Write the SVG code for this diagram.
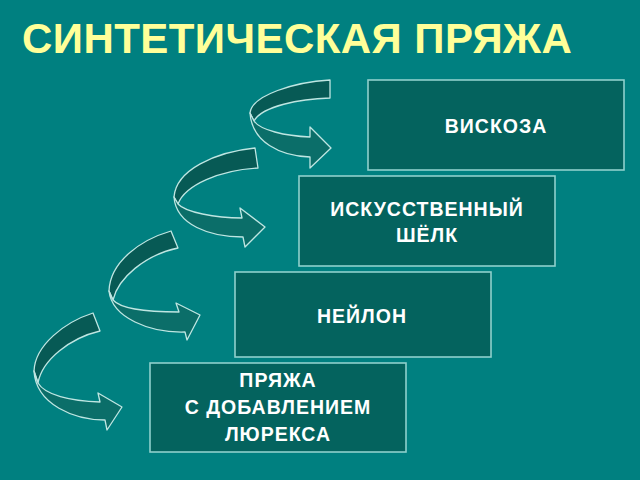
<svg xmlns="http://www.w3.org/2000/svg" width="640" height="480" viewBox="0 0 640 480">
<style>
.box{fill:#04635e;stroke:#8fd0cc;stroke-width:1.6}
.lbl{font-family:"Liberation Sans",Arial,sans-serif;font-weight:bold;font-size:19.5px;letter-spacing:1px;fill:#ffffff;text-anchor:middle}
.back{fill:#075a55;stroke:#bfe6e2;stroke-width:1.3;stroke-linejoin:round}
.front{fill:#0b6e69;stroke:#bfe6e2;stroke-width:1.3;stroke-linejoin:round}
.title{font-family:"Liberation Sans",Arial,sans-serif;font-weight:bold;font-size:42px;letter-spacing:0.45px;fill:#ffff99}
</style>
<rect x="0" y="0" width="640" height="480" fill="#008080"/>
<text class="title" x="22" y="53">СИНТЕТИЧЕСКАЯ ПРЯЖА</text>
<g id="connectors">
<g id="arrow1">
<path class="back" d="M330,80 C295,82 252,95 250,113 L254,121 C262,106 300,99 330,98 Z"/>
<path class="front" d="M254,121 C260,130 285,136 310,137 L310,127 L331,148 L310,168 L310,157 C280,156 252,142 250,113 Z"/>
</g>
<g id="arrow2">
<path class="back" d="M255,148 C215,152 176,170 174,197 L178,204 C185,185 220,170 258,168 Z"/>
<path class="front" d="M178,204 C185,212 215,218 242,218 L240,208 L265,227 L245,247 L243,237 C210,237 176,225 174,197 Z"/>
</g>
<g id="arrow3">
<path class="back" d="M171,231 C140,240 110,262 109,291 L113,300 C118,278 145,255 178,248 Z"/>
<path class="front" d="M113,300 C120,308 145,312 179,312 L176,303 L200,315 L187,340 L185,332 C150,333 112,318 109,291 Z"/>
</g>
<g id="arrow4">
<path class="back" d="M93,313 C65,322 35,345 34,371 L38,383 C42,360 70,338 100,331 Z"/>
<path class="front" d="M38,383 C45,395 70,401 100,402 L98,393 L122,407 L107,430 L105,420 C75,420 36,405 34,371 Z"/>
</g>
</g>
<g id="viscose">
<rect class="box" x="368" y="80" width="256" height="90"/>
<text class="lbl" x="496" y="133">ВИСКОЗА</text>
</g>
<g id="silk">
<rect class="box" x="299" y="176" width="256" height="90"/>
<text class="lbl" x="427" y="216">ИСКУССТВЕННЫЙ</text>
<text class="lbl" x="427" y="242">ШЁЛК</text>
</g>
<g id="nylon">
<rect class="box" x="235" y="272" width="256" height="85"/>
<text class="lbl" x="362" y="323">НЕЙЛОН</text>
</g>
<g id="lurex">
<rect class="box" x="150" y="363" width="256" height="89"/>
<text class="lbl" x="278" y="387">ПРЯЖА</text>
<text class="lbl" x="278" y="414">С ДОБАВЛЕНИЕМ</text>
<text class="lbl" x="278" y="441">ЛЮРЕКСА</text>
</g>
</svg>
